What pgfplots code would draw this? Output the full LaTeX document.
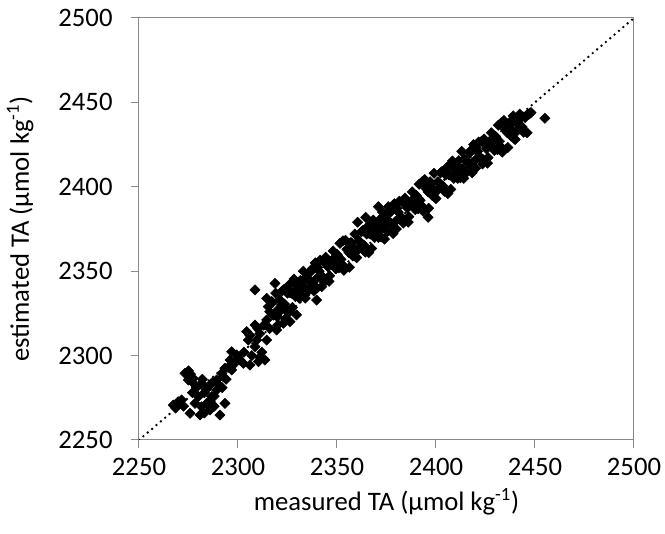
\documentclass[border=0pt]{standalone}
\usepackage{fontspec}
\setmainfont{Carlito}
\usepackage{pgfplots}
\usepackage{pgfplotstable}
\pgfplotsset{compat=1.18}
\definecolor{axgray}{RGB}{137,137,137}
\pgfplotstableread{
x y
2316 2326
2317 2332
2318 2324
2319 2337
2320 2323
2321 2333
2322 2330
2323 2339
2324 2327
2325 2337
2326 2326
2327 2337
2328 2344
2329 2335
2330 2342
2331 2334
2332 2339
2333 2350
2334 2334
2335 2346
2336 2344
2337 2350
2338 2342
2339 2355
2340 2340
2341 2350
2342 2347
2343 2356
2344 2345
2345 2355
2346 2344
2347 2355
2348 2362
2349 2352
2350 2360
2351 2352
2352 2357
2353 2368
2354 2352
2355 2363
2356 2361
2357 2367
2358 2359
2359 2372
2360 2358
2361 2368
2362 2365
2363 2374
2364 2363
2365 2372
2366 2361
2367 2372
2368 2379
2369 2370
2370 2378
2371 2370
2372 2375
2373 2385
2374 2369
2375 2381
2376 2379
2377 2385
2378 2377
2379 2390
2380 2375
2381 2385
2382 2382
2383 2391
2384 2380
2385 2390
2386 2379
2387 2390
2388 2397
2389 2388
2390 2395
2391 2387
2392 2392
2393 2403
2394 2387
2395 2399
2396 2397
2397 2403
2398 2395
2399 2408
2400 2393
2401 2403
2402 2400
2403 2409
2404 2398
2405 2407
2406 2396
2407 2407
2408 2414
2409 2405
2410 2413
2411 2405
2412 2410
2413 2421
2414 2405
2415 2416
2416 2414
2417 2420
2418 2412
2419 2425
2420 2411
2421 2421
2422 2418
2423 2427
2424 2416
2425 2425
2426 2414
2427 2425
2428 2432
2429 2423
2430 2430
2431 2422
2432 2427
2433 2438
2434 2422
2435 2434
2436 2432
2437 2438
2438 2430
2439 2442
2440 2428
2441 2438
2442 2435
2443 2441
2444 2433
2445 2441
2446 2432
2447 2443
2448 2444
2317.5 2331.5
2319.5 2323.5
2321.5 2332.5
2323.5 2330.5
2325.5 2341.5
2327.5 2328.5
2329.5 2339.5
2331.5 2344.5
2333.5 2340.5
2335.5 2338.5
2337.5 2351.5
2339.5 2345.5
2341.5 2356.5
2343.5 2343.5
2345.5 2352.5
2347.5 2356.5
2349.5 2351.5
2351.5 2366.5
2353.5 2350.5
2355.5 2362.5
2357.5 2366.5
2359.5 2358.5
2361.5 2367.5
2363.5 2365.5
2365.5 2376.5
2367.5 2363.5
2369.5 2375.5
2371.5 2380.5
2373.5 2376.5
2375.5 2373.5
2377.5 2386.5
2379.5 2379.5
2381.5 2391.5
2383.5 2378.5
2385.5 2387.5
2387.5 2391.5
2389.5 2386.5
2391.5 2401.5
2393.5 2385.5
2395.5 2398.5
2397.5 2401.5
2399.5 2393.5
2401.5 2402.5
2403.5 2400.5
2405.5 2411.5
2407.5 2398.5
2409.5 2410.5
2411.5 2415.5
2413.5 2410.5
2415.5 2408.5
2417.5 2421.5
2419.5 2415.5
2421.5 2426.5
2423.5 2413.5
2425.5 2422.5
2427.5 2427.5
2429.5 2421.5
2431.5 2436.5
2433.5 2420.5
2435.5 2433.5
2437.5 2436.5
2439.5 2428.5
2441.5 2437.5
2443.5 2435.5
2445.5 2442
2320.3 2327.3
2322.3 2338.3
2324.3 2327.3
2326.3 2337.3
2328.3 2345.3
2330.3 2337.3
2332.3 2335.3
2334.3 2346.3
2336.3 2344.3
2338.3 2338.3
2340.3 2352.3
2342.3 2347.3
2344.3 2358.3
2346.3 2347.3
2348.3 2355.3
2350.3 2359.3
2352.3 2354.3
2354.3 2368.3
2356.3 2352.3
2358.3 2363.3
2360.3 2362.3
2362.3 2373.3
2364.3 2361.3
2366.3 2372.3
2368.3 2380.3
2370.3 2373.3
2372.3 2370.3
2374.3 2381.3
2376.3 2379.3
2378.3 2372.3
2380.3 2387.3
2382.3 2382.3
2384.3 2393.3
2386.3 2382.3
2388.3 2390.3
2390.3 2394.3
2392.3 2389.3
2394.3 2404.3
2396.3 2387.3
2398.3 2398.3
2400.3 2397.3
2402.3 2408.3
2404.3 2397.3
2406.3 2407.3
2408.3 2415.3
2410.3 2408.3
2412.3 2405.3
2414.3 2416.3
2416.3 2414.3
2418.3 2408.3
2420.3 2423.3
2422.3 2417.3
2424.3 2428.3
2426.3 2417.3
2428.3 2426.3
2430.3 2429.3
2432.3 2424.3
2434.3 2439.3
2436.3 2423.3
2438.3 2433.3
2440.3 2432.3
2442.3 2443
2444.3 2432.3
2446.3 2443
2267.3 2270.7
2269.8 2272.7
2271.5 2273.7
2268.5 2269
2273.2 2289.5
2274.9 2285.5
2277.4 2286.5
2275 2291
2281.6 2283.6
2285 2281.6
2289.2 2285.5
2292.6 2287.5
2289.2 2279.6
2286.7 2275.7
2280 2275.7
2278.3 2271.7
2281.6 2269.7
2284.2 2271.7
2275.8 2265.8
2280.8 2264.8
2285.9 2267.8
2290.9 2264.8
2293.4 2271.7
2283 2266
2288 2270
2277 2278
2279 2281
2283 2278
2287 2284
2291.8 2289.5
2293.4 2292.5
2296 2297.4
2296.8 2291.5
2296.8 2302.3
2299.3 2300.4
2301 2297.4
2302.7 2295.4
2306 2294.4
2310.3 2296.4
2313.6 2297.4
2304.4 2314.2
2305.2 2309.2
2309.4 2309.2
2308.6 2305.3
2314.5 2309.2
2308.6 2318.1
2314.5 2321.1
2319.5 2315.2
2322.9 2319.1
2326.3 2320.1
2329.6 2324.1
2317.8 2324.1
2315.3 2329
2314.5 2333.9
2318.7 2342.8
2308.6 2338.9
2339.7 2332.9
2342.3 2340.8
2311 2313
2312 2302
2270.5 2271.5
2272.5 2270
2276 2289
2278 2283
2282 2286
2284 2280
2286 2273
2288 2276
2290 2283
2292 2281
2294 2286
2295 2293
2298 2295
2300 2299
2303 2302
2307 2300
2311 2299
2306 2312
2310 2316
2313 2318
2316 2316
2320 2318
2324 2322
2321 2326
2360.4 2379
2364.5 2381.9
2370.9 2388.2
2375.9 2388.2
2396 2381.9
2455 2440.6
2447.5 2443.7
}\ptsdata
\begin{document}
\fontsize{20pt}{24pt}\selectfont
\begin{tikzpicture}
\useasboundingbox (-104.25pt,-70.5pt) rectangle (394.5pt,330pt);
\begin{axis}[
  scale only axis, width=371.25pt, height=316.5pt,
  xmin=2250, xmax=2500, ymin=2250, ymax=2500,
  xtick={2250,2300,...,2500}, ytick={2250,2300,...,2500},
  tick align=outside, tick pos=left, major tick length=6pt,
  axis line style={axgray, line width=0.75pt},
  every tick/.style={axgray, line width=0.75pt},
  /pgf/number format/1000 sep={},
  /pgf/number format/assume math mode=true,
  tick label style={font=\fontsize{20pt}{24pt}\selectfont, text=black},
  yticklabel style={xshift=-7pt},
  xticklabel style={yshift=-1pt},
  label style={font=\fontsize{20pt}{24pt}\selectfont},
  xlabel={measured TA (µmol kg\textsuperscript{-1})},
  ylabel={estimated TA (µmol kg\textsuperscript{-1})},
  xlabel style={at={(axis description cs:0.5,-0.147)}, anchor=center},
  ylabel style={at={(axis description cs:-0.240,0.5)}, anchor=center},
]
\addplot[black, line width=2pt, dash pattern=on 0pt off 4.3pt, line cap=round] coordinates {(2250,2250) (2500,2500)};
\addplot[only marks, mark=square*, mark size=2.7pt, mark options={rotate=45, fill=black, draw=black}] table[x=x, y=y] {\ptsdata};
\end{axis}
\end{tikzpicture}
\end{document}
